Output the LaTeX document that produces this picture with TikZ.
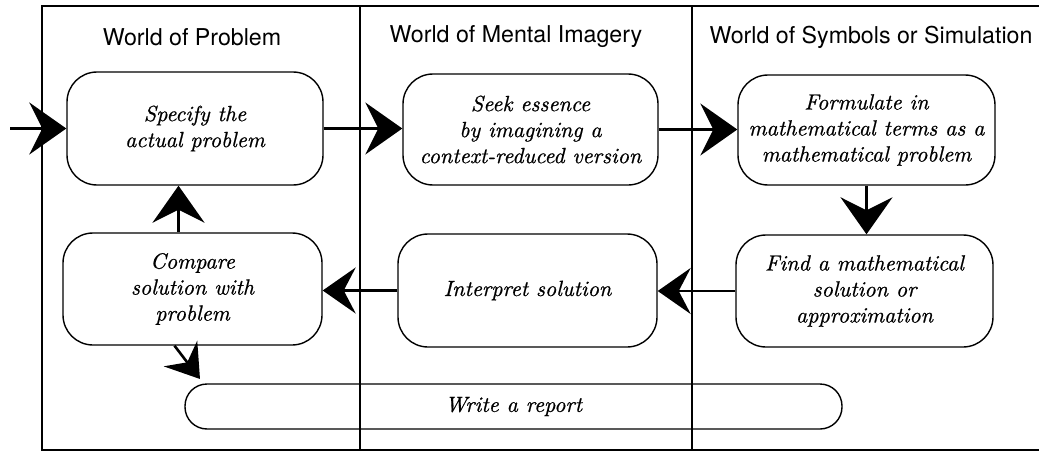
\documentclass[tikz,border=0pt]{standalone}
\usepackage{fontspec}
\newfontfamily\headfont{TeX Gyre Heros}
\newfontfamily\boxfont{lmroman10-italic}[Extension=.otf, FakeBold=0.7]
\usetikzlibrary{arrows.meta}
\tikzset{
  frame/.style={line width=1.4pt},
  head/.style={font=\headfont\fontsize{23.2}{27}\selectfont, anchor=center},
  stepbox/.style={draw, line width=1.4pt, rounded corners=30pt, align=center,
     font=\boxfont\fontsize{22}{26}\selectfont, inner sep=0pt},
  arr/.style={line width=2.6pt, -{Stealth[length=37pt, width=52pt, inset=13pt]}},
  arrs/.style={line width=2.6pt, -{Stealth[length=33pt, width=46pt, inset=12pt]}},
}
\begin{document}
\begin{tikzpicture}[x=1pt, y=-1pt]
\useasboundingbox (0,0) rectangle (1039,452);
% frame
\draw[frame] (1039,6) -- (42,6) -- (42,450) -- (1039,450);
\draw[frame] (360,6) -- (360,450);
\draw[frame] (692,6) -- (692,450);
% headings
\node[head] (h1) at (192,37) {World of Problem};
\node[head] (h2) at (516,37) {World of Mental Imagery};
\node[head] (h3) at (871,37) {World of Symbols or Simulation};
% boxes
\node[stepbox, minimum width=256pt, minimum height=113pt] (spec) at (195,128.5) {Specify the\\actual problem};
\node[stepbox, minimum width=255pt, minimum height=111pt] (seek) at (530.5,129.5) {Seek essence\\by imagining a\\context-reduced version};
\node[stepbox, minimum width=257pt, minimum height=110pt] (form) at (866.5,130) {Formulate in\\mathematical terms as a\\mathematical problem};
\node[stepbox, minimum width=259pt, minimum height=112pt] (cmp) at (192.5,289) {Compare\\solution with\\problem};
\node[stepbox, minimum width=259pt, minimum height=113pt] (intp) at (527.5,290.5) {Interpret solution};
\node[stepbox, minimum width=257pt, minimum height=112pt] (find) at (864.5,291) {Find a mathematical\\solution or\\approximation};
\node[stepbox, rounded corners=22pt, minimum width=657pt, minimum height=45pt] (rep) at (513.5,406.5) {Write a report};
% connectors
\coordinate (start) at (10,128.5);
\draw[arr] (start) -- (spec.west);
\draw[arr] (spec.east) -- (seek.west |- spec.east);
\draw[arr] (seek.east) -- (form.west |- seek.east);
\draw[arr] (form.south) -- (form.south |- find.north);
\draw[arrs] (find.west) -- (intp.east |- find.west);
\draw[arrs] (intp.west) -- (cmp.east |- intp.west);
\draw[arr] ([xshift=-14pt]cmp.north) -- ([xshift=-14pt]cmp.north |- spec.south);
\coordinate (dtip) at (200,379);
\draw[line width=2.6pt, -{Stealth[length=32pt, width=42pt, inset=11pt]}] ([xshift=-18pt]cmp.south) -- (dtip);
\end{tikzpicture}
\end{document}
